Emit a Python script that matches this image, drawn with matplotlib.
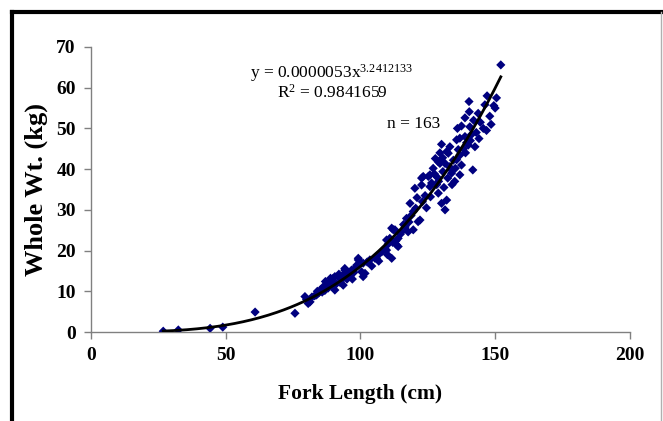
import numpy as np
import matplotlib
matplotlib.use('Agg')
import matplotlib.pyplot as plt
from matplotlib.lines import Line2D

plt.rcParams['font.family'] = ['Liberation Serif', 'DejaVu Serif']
plt.rcParams['mathtext.fontset'] = 'custom'
plt.rcParams['mathtext.rm'] = 'Liberation Serif'
plt.rcParams['mathtext.it'] = 'Liberation Serif:italic'
plt.rcParams['mathtext.bf'] = 'Liberation Serif:bold'

# fork length (cm) and whole weight (kg)
fork_length = [
    26.8, 32.4, 44.2, 48.9, 60.9, 75.7,
    79.4, 80.0, 80.6, 81.3, 82.0, 83.0, 83.7, 84.5, 85.2, 86.2, 86.8, 87.5,
    88.0, 88.7, 88.9, 89.3, 89.9, 90.5, 90.5, 91.0, 91.8, 92.4, 93.0, 93.6,
    94.2, 94.2, 95.0, 95.5, 96.1, 96.7, 97.5, 98.2, 99.2, 99.2, 100.4, 101.0,
    101.0, 101.7, 102.5, 103.5,
    105.4, 106.0, 107.0, 107.9, 108.8, 109.7, 109.7, 110.3, 110.9, 111.6,
    111.6, 112.2, 112.8, 113.4, 113.2, 114.0, 114.0, 114.8, 115.3, 116.0,
    117.1, 117.7, 118.4, 118.8, 119.6, 119.6, 120.2, 120.5, 121.4, 122.1,
    122.7, 122.7, 123.3, 123.0, 124.0, 125.2, 125.8, 125.8, 126.4, 127.0,
    127.5, 128.3, 128.9, 128.9, 129.5, 129.5, 130.1, 130.1, 130.6, 131.4,
    131.4, 132.0, 132.0, 132.6, 133.0, 133.8, 133.8, 134.5, 135.0, 135.7,
    135.7, 136.3, 136.9, 136.9, 137.5, 137.5, 138.2, 138.8, 138.8, 139.4,
    140.0, 140.3, 140.4, 140.6, 141.2, 141.7, 142.5, 143.0, 143.7, 144.5,
    145.6, 146.2, 147.0, 148.0, 149.5, 150.5, 152.1,
    84.0, 85.8, 87.0, 89.6, 92.0, 93.2, 97.0, 98.6, 104.2, 106.8, 110.0,
    112.0, 116.6, 118.0, 121.0, 124.5, 126.0, 127.8, 128.5, 129.0, 130.5,
    131.0, 132.4, 133.2, 134.0, 135.2, 136.0, 137.0, 139.0, 140.8, 142.0,
    144.0, 146.8, 148.5, 150.0,
]
whole_wt = [
    0.2, 0.5, 0.9, 1.2, 4.9, 4.6,
    8.7, 8.0, 7.0, 7.4, 8.6, 8.9, 9.1, 9.6, 10.4, 11.1, 10.2, 11.6,
    10.8, 12.0, 13.2, 12.4, 13.2, 10.3, 13.6, 11.8, 13.6, 12.2, 12.8, 11.5,
    15.2, 15.6, 13.0, 14.2, 13.6, 15.2, 14.6, 15.8, 18.1, 17.7, 14.8, 13.6,
    16.9, 14.4, 17.2, 17.7,
    18.1, 18.1, 19.2, 19.7, 20.4, 20.1, 22.6, 21.6, 23.0, 18.1,
    25.5, 25.1, 25.1, 21.4, 22.4, 23.0, 21.0, 24.0, 24.6, 26.4,
    27.9, 24.6, 31.6, 28.6, 29.6, 25.1, 35.3, 30.4, 27.1, 27.5,
    37.8, 36.1, 38.2, 32.0, 33.5, 38.2, 35.7, 38.6, 36.6, 40.2,
    38.8, 36.2, 41.8, 34.1, 41.4, 44.0, 46.1, 31.6, 39.4, 30.0,
    41.4, 32.4, 44.3, 43.9, 40.6, 39.0, 39.8, 42.2, 37.0, 42.3,
    47.2, 44.8, 38.6, 47.6, 41.0, 50.6, 45.0, 48.0, 52.6, 46.5,
    45.9, 56.6, 54.1, 50.4, 48.5, 39.8, 45.5, 49.0, 53.7, 51.5,
    50.0, 55.8, 58.0, 53.0, 55.6, 57.5, 65.6,
    10.0, 9.8, 12.4, 11.4, 14.2, 13.8, 13.0, 16.4, 16.2, 17.4, 19.0,
    22.0, 25.8, 27.0, 33.0, 30.5, 33.2, 42.6, 38.0, 37.0, 42.8,
    35.5, 37.8, 45.5, 36.2, 40.2, 50.0, 43.5, 44.0, 47.0, 52.0,
    47.5, 49.5, 51.0, 55.0,
]

# power fit reported on the chart
fit_a = 0.0000053
fit_b = 3.2412133

fig = plt.figure(figsize=(6.63, 4.21), dpi=100)
ax = fig.add_axes([0.1373, 0.2114, 0.8127, 0.677])

ax.scatter(fork_length, whole_wt, marker='D', s=22, color='#00007f',
           edgecolors='none', zorder=3)

xf = np.linspace(min(fork_length), max(fork_length), 200)
ax.plot(xf, fit_a * xf ** fit_b, color='black', lw=2, zorder=4)

ax.set_xlim(0, 200)
ax.set_ylim(0, 70)
ax.set_xticks([0, 50, 100, 150, 200])
ax.set_yticks(range(0, 80, 10))

for side in ('top', 'right'):
    ax.spines[side].set_visible(False)
for side in ('left', 'bottom'):
    ax.spines[side].set_color('#808080')
    ax.spines[side].set_linewidth(1)
ax.tick_params(direction='out', length=5, color='#808080', width=1,
               labelsize=14, pad=6)
for lab in ax.get_xticklabels() + ax.get_yticklabels():
    lab.set_fontweight('bold')

ax.set_xlabel('Fork Length (cm)', fontsize=15.5, fontweight='bold', labelpad=14)
ax.set_ylabel('Whole Wt. (kg)', fontsize=19, fontweight='bold', labelpad=6)

ax.text(59, 63.6, r'y = 0.0000053x$^{\mathregular{3.2412133}}$', fontsize=12.5,
        va='center', ha='left')
ax.text(69, 58.7, r'R$^{\mathregular{2}}$ = 0.9841659', fontsize=12.5,
        va='center', ha='left')
ax.text(110, 51.2, 'n = 163', fontsize=12.5, va='center', ha='left')

# outer frame: heavy black top/left, thin grey right
fig.add_artist(Line2D([12 / 663, 1], [1 - 12 / 421, 1 - 12 / 421],
                      transform=fig.transFigure, color='black', lw=3))
fig.add_artist(Line2D([12 / 663, 12 / 663], [0, 1 - 12 / 421],
                      transform=fig.transFigure, color='black', lw=3))
fig.add_artist(Line2D([661 / 663, 661 / 663], [0, 1 - 12 / 421],
                      transform=fig.transFigure, color='#b0b0b0', lw=1))

fig.savefig('out.png', dpi=100)
